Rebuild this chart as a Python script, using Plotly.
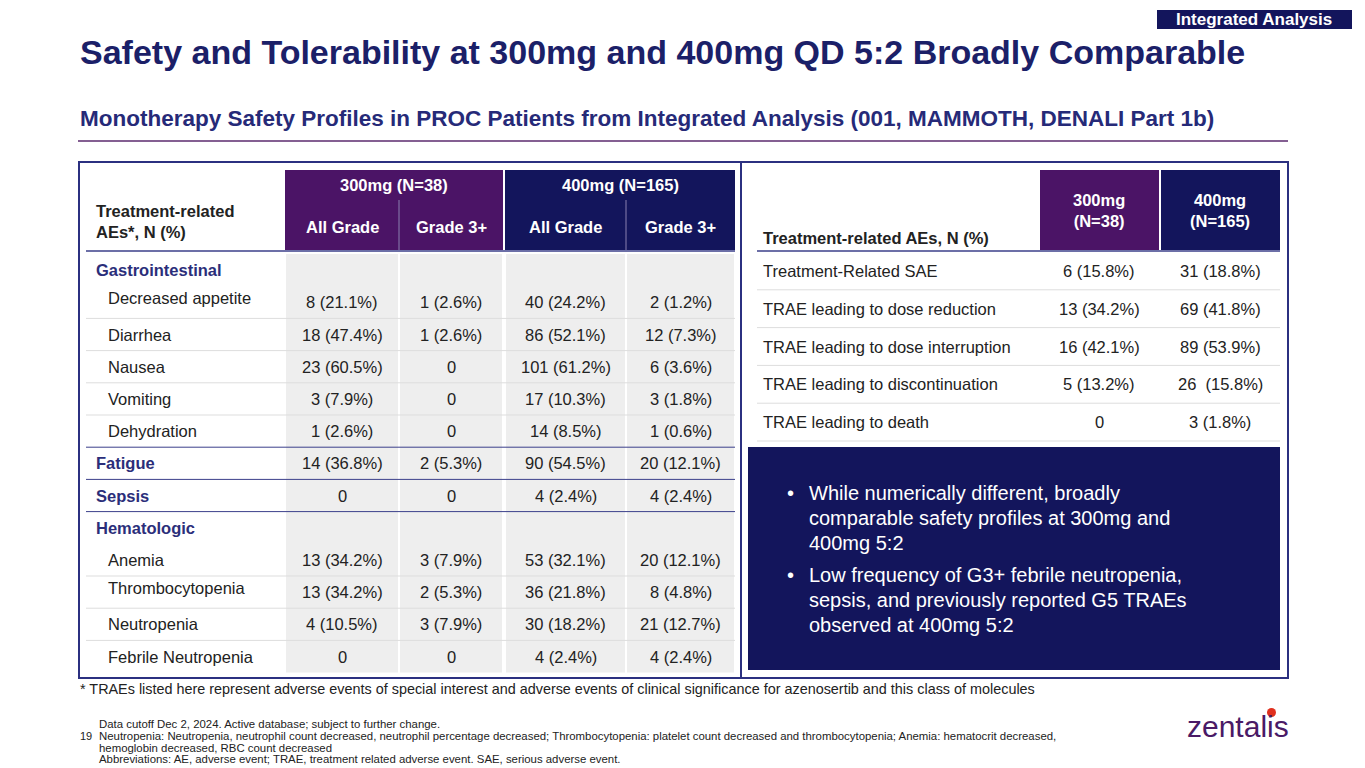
import plotly.graph_objects as go

# left table data
left_rows = ["Gastrointestinal", "Decreased appetite", "Diarrhea", "Nausea", "Vomiting", "Dehydration",
             "Fatigue", "Sepsis", "Hematologic", "Anemia", "Thrombocytopenia", "Neutropenia", "Febrile Neutropenia"]
is_group = [True, False, False, False, False, False, True, True, True, False, False, False, False]
all300 = ["", "8 (21.1%)", "18 (47.4%)", "23 (60.5%)", "3 (7.9%)", "1 (2.6%)", "14 (36.8%)", "0", "",
          "13 (34.2%)", "13 (34.2%)", "4 (10.5%)", "0"]
g3_300 = ["", "1 (2.6%)", "1 (2.6%)", "0", "0", "0", "2 (5.3%)", "0", "",
          "3 (7.9%)", "2 (5.3%)", "3 (7.9%)", "0"]
all400 = ["", "40 (24.2%)", "86 (52.1%)", "101 (61.2%)", "17 (10.3%)", "14 (8.5%)", "90 (54.5%)", "4 (2.4%)", "",
          "53 (32.1%)", "36 (21.8%)", "30 (18.2%)", "4 (2.4%)"]
g3_400 = ["", "2 (1.2%)", "12 (7.3%)", "6 (3.6%)", "3 (1.8%)", "1 (0.6%)", "20 (12.1%)", "4 (2.4%)", "",
          "20 (12.1%)", "8 (4.8%)", "21 (12.7%)", "4 (2.4%)"]

# right table data
right_rows = ["Treatment-Related SAE", "TRAE leading to dose reduction", "TRAE leading to dose interruption",
              "TRAE leading to discontinuation", "TRAE leading to death"]
r300 = ["6 (15.8%)", "13 (34.2%)", "16 (42.1%)", "5 (13.2%)", "0"]
r400 = ["31 (18.8%)", "69 (41.8%)", "89 (53.9%)", "26  (15.8%)", "3 (1.8%)"]

bullets = [["While numerically different, broadly", "comparable safety profiles at 300mg and", "400mg 5:2"],
           ["Low frequency of G3+ febrile neutropenia,", "sepsis, and previously reported G5 TRAEs",
            "observed at 400mg 5:2"]]

footer = ["Data cutoff Dec 2, 2024. Active database; subject to further change.",
          "Neutropenia: Neutropenia, neutrophil count decreased, neutrophil percentage decreased; Thrombocytopenia: platelet count decreased and thrombocytopenia; Anemia: hematocrit decreased,",
          "hemoglobin decreased, RBC count decreased",
          "Abbreviations: AE, adverse event; TRAE, treatment related adverse event. SAE, serious adverse event."]

NAVY = "#13155c"
PURPLE = "#4b1466"
TXT = "#222222"
FONT = "Liberation Sans"
FS = 16.5

shapes = []
ann = []


def rect(x0, y0, x1, y1, fill, line=None, w=0):
    shapes.append(dict(type="rect", x0=x0, y0=y0, x1=x1, y1=y1, fillcolor=fill,
                       line=dict(color=line or fill, width=w), layer="below"))


def hline(x0, x1, y, color, w=1):
    shapes.append(dict(type="line", x0=x0, x1=x1, y0=y, y1=y, line=dict(color=color, width=w)))


def text(x, y, s, size=FS, color=TXT, bold=False, xanchor="center", align="center"):
    if bold:
        s = "<b>" + s + "</b>"
    ann.append(dict(x=x, y=y, text=s, showarrow=False, xanchor=xanchor, yanchor="middle", align=align,
                    font=dict(family=FONT, size=size, color=color)))


# titles
text(78, 52, "Safety and Tolerability at 300mg and 400mg QD 5:2 Broadly Comparable", 34, "#1b2068", True, "left")
text(78, 118, "Monotherapy Safety Profiles in PROC Patients from Integrated Analysis (001, MAMMOTH, DENALI Part 1b)",
     22.5, "#262a78", True, "left")
hline(78, 1288, 141, "#5b2a6e", 1.5)
rect(1157, 10, 1352, 29, NAVY)
text(1254, 19.5, "Integrated Analysis", 17, "white", True)

# outer frame
shapes.append(dict(type="rect", x0=79, y0=162, x1=1288, y1=678, line=dict(color="#2b3080", width=2)))
shapes.append(dict(type="line", x0=741, x1=741, y0=162, y1=678, line=dict(color="#2b3080", width=2)))

# left table
cols = [(285, 399), (399, 503), (505, 626), (626, 735)]
rect(285, 170, 503, 250, PURPLE)
rect(505, 170, 735, 250, NAVY)
for x in (399, 626):
    shapes.append(dict(type="line", x0=x, x1=x, y0=200, y1=250, line=dict(color="#8a80b0", width=1)))
text(394, 185, "300mg (N=38)", FS, "white", True)
text(620, 185, "400mg (N=165)", FS, "white", True)
for (a, b), s in zip(cols, ["All Grade", "Grade 3+", "All Grade", "Grade 3+"]):
    text((a + b) / 2, 227, s, FS, "white", True)
text(94, 221, "Treatment-related<br>AEs*, N (%)", FS, TXT, True, "left", "left")

top, rh = 254, 32.2
for a, b in cols:
    rect(a + 1, top, b - 1, top + rh * len(left_rows), "#eeeeee")
hline(86, 735, 251, "#3b3f8a", 1.5)
for i, name in enumerate(left_rows):
    yc = top + rh * (i + 0.5)
    if is_group[i]:
        text(94, yc, name, FS, "#2b2e7a", True, "left")
    else:
        text(106, yc - (4 if i in (1, 10) else 0), name, FS, TXT, False, "left")
    for (a, b), v in zip(cols, [all300[i], g3_300[i], all400[i], g3_400[i]]):
        text((a + b) / 2, yc, v, FS)
    yb = top + rh * (i + 1)
    if i in (5, 6, 7):
        hline(86, 735, yb, "#3b3f8a", 1)
    elif i not in (0, 8, 12):
        hline(86, 735, yb, "#dddddd", 1)

# right table
rect(1040, 170, 1159, 250, PURPLE)
rect(1161, 170, 1280, 250, NAVY)
text(1099, 210, "300mg<br>(N=38)", FS, "white", True)
text(1220, 210, "400mg<br>(N=165)", FS, "white", True)
text(761, 238, "Treatment-related AEs, N (%)", FS, TXT, True, "left")
hline(757, 1280, 251, "#3b3f8a", 1.5)
rtop, rrh = 252, 37.8
for i, name in enumerate(right_rows):
    yc = rtop + rrh * (i + 0.5)
    text(761, yc, name, FS, TXT, False, "left")
    text(1099, yc, r300[i], FS)
    text(1220, yc, r400[i], FS)
    hline(757, 1280, rtop + rrh * (i + 1), "#dddddd", 1)

# callout box
rect(748, 447, 1280, 670, NAVY)
for y0, lines in zip([493, 575], bullets):
    text(785, y0, "•", 20, "white", False, "left")
    for k, ln in enumerate(lines):
        text(807, y0 + 24.8 * k, ln, 20, "white", False, "left")

# footnotes
text(78, 689, "* TRAEs listed here represent adverse events of special interest and adverse events of clinical significance for azenosertib and this class of molecules",
     14.4, TXT, False, "left")
text(78, 736, "19", 11, TXT, False, "left")
for k, ln in enumerate(footer):
    text(97, 724 + 11.8 * k, ln, 11.4, TXT, False, "left")
text(1238, 726, "zentalis", 30, "#4a1a66", False, "center")
shapes.append(dict(type="circle", x0=1267, x1=1276, y0=708, y1=717, fillcolor="#e0301e", line=dict(width=0)))

fig = go.Figure()
# page body has an 8px margin, so the axes start 8px in
fig.update_layout(width=1357, height=760, margin=dict(l=0, r=0, t=0, b=0),
                  paper_bgcolor="white", plot_bgcolor="white",
                  xaxis=dict(range=[8, 1365], visible=False, fixedrange=True),
                  yaxis=dict(range=[768, 8], visible=False, fixedrange=True),
                  shapes=shapes, annotations=ann, showlegend=False)
fig.write_html("out.html")
